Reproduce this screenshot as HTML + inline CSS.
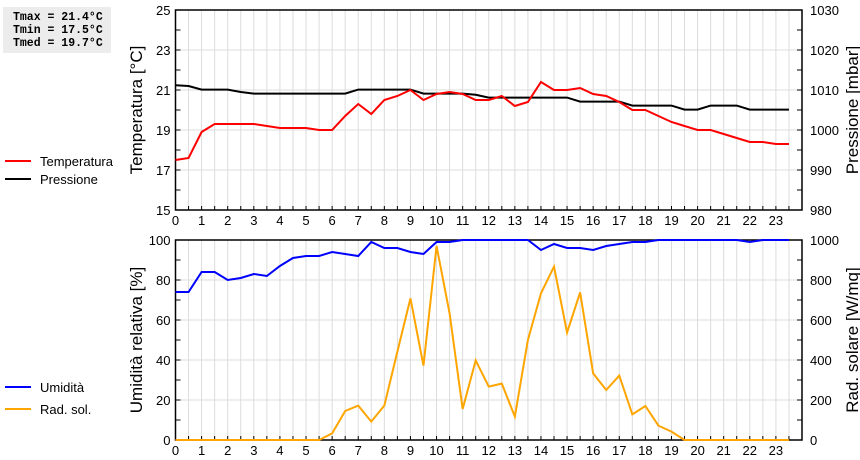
<!DOCTYPE html>
<html><head><meta charset="utf-8"><style>
body{margin:0;background:#fff;width:860px;height:460px;overflow:hidden}
svg{display:block;font-family:"Liberation Sans",Arial,sans-serif}
</style></head><body>
<svg id="chart" width="860" height="460" xmlns="http://www.w3.org/2000/svg">
<g>
<rect x="3" y="7" width="108" height="46" fill="#ececec"/>
<text x="13" y="20" font-family="Liberation Mono,monospace" font-weight="bold" font-size="11.5">Tmax = 21.4°C</text>
<text x="13" y="33" font-family="Liberation Mono,monospace" font-weight="bold" font-size="11.5">Tmin = 17.5°C</text>
<text x="13" y="46" font-family="Liberation Mono,monospace" font-weight="bold" font-size="11.5">Tmed = 19.7°C</text>
</g>
<g>
<line x1="5" y1="161" x2="31" y2="161" stroke="#f00" stroke-width="2"/>
<text x="40" y="166" font-size="13">Temperatura</text>
<line x1="5" y1="179" x2="31" y2="179" stroke="#000" stroke-width="2"/>
<text x="40" y="184" font-size="13">Pressione</text>
</g>
<g>
<line x1="5" y1="387" x2="31" y2="387" stroke="#00f" stroke-width="2"/>
<text x="40" y="392" font-size="13">Umidità</text>
<line x1="5" y1="409" x2="31" y2="409" stroke="#ffa500" stroke-width="2"/>
<text x="40" y="414" font-size="13">Rad. sol.</text>
</g>
<g id="g"></g>
</svg>
<script>
const hours = [0,0.5,1,1.5,2,2.5,3,3.5,4,4.5,5,5.5,6,6.5,7,7.5,8,8.5,9,9.5,10,10.5,11,11.5,12,12.5,13,13.5,14,14.5,15,15.5,16,16.5,17,17.5,18,18.5,19,19.5,20,20.5,21,21.5,22,22.5,23,23.5];
const temperature = [17.5,17.6,18.9,19.3,19.3,19.3,19.3,19.2,19.1,19.1,19.1,19.0,19.0,19.7,20.3,19.8,20.5,20.7,21.0,20.5,20.8,20.9,20.8,20.5,20.5,20.7,20.2,20.4,21.4,21.0,21.0,21.1,20.8,20.7,20.4,20.0,20.0,19.7,19.4,19.2,19.0,19.0,18.8,18.6,18.4,18.4,18.3,18.3];
const pressure = [1011.2,1011,1010.1,1010.1,1010.1,1009.5,1009.1,1009.1,1009.1,1009.1,1009.1,1009.1,1009.1,1009.1,1010.1,1010.1,1010.1,1010.1,1010.1,1009.1,1009.1,1009.1,1009.1,1008.8,1008.1,1008.1,1008.1,1008.1,1008.1,1008.1,1008.1,1007.1,1007.1,1007.1,1007.1,1006.1,1006.1,1006.1,1006.1,1005.1,1005.1,1006.1,1006.1,1006.1,1005.1,1005.1,1005.1,1005.1];
const humidity = [74,74,84,84,80,81,83,82,87,91,92,92,94,93,92,99,96,96,94,93,99,99,100,100,100,100,100,100,95,98,96,96,95,97,98,99,99,100,100,100,100,100,100,100,99,100,100,100];
const radiation = [0,0,0,0,0,0,0,0,0,0,0,0,33,145,172,92,172,442,708,372,970,633,155,398,267,282,117,500,733,867,537,738,333,250,322,128,170,72,42,0,0,0,0,0,0,0,0,0];
const xTicks = [0,1,2,3,4,5,6,7,8,9,10,11,12,13,14,15,16,17,18,19,20,21,22,23];
const tempTicks = [15,17,19,21,23,25];
const presTicks = [980,990,1000,1010,1020,1030];
const humTicks = [0,20,40,60,80,100];
const radTicks = [0,200,400,600,800,1000];

const NS="http://www.w3.org/2000/svg", G=document.getElementById('g');
const L=175.5,R=802;
const x=h=>L+(R-L)*h/24;
function mk(t,a,txt){const e=document.createElementNS(NS,t);for(const k in a)e.setAttribute(k,a[k]);if(txt!==undefined)e.textContent=txt;G.appendChild(e);return e;}
function panel(top,bot,lmin,lmax,lt,rmin,rmax,rt,ltitle,rtitle,pname){
  const yl=v=>bot-(v-lmin)/(lmax-lmin)*(bot-top);
  const yr=v=>bot-(v-rmin)/(rmax-rmin)*(bot-top);
  for(let h=0.5;h<24;h+=0.5){const e=mk('line',{x1:x(h),x2:x(h),y1:top,y2:bot,stroke:'#dcdcdc','stroke-width':1});
  
  }
  lt.forEach((v,i)=>{const y=yl(v);
    if(i>0&&i<lt.length-1){const g=mk('line',{x1:L,x2:R,y1:y,y2:y,stroke:'#dcdcdc'});
    
    }
    const t=mk('text',{x:L-5,y:y+5,'text-anchor':'end','font-size':13},v);
    
    
    if(i<lt.length-1){const ym=(y+yl(lt[i+1]))/2;mk('line',{x1:L,x2:L+5,y1:ym,y2:ym,stroke:'#000'});mk('line',{x1:R,x2:R-5,y1:ym,y2:ym,stroke:'#000'});}
    mk('line',{x1:L,x2:L+5,y1:y,y2:y,stroke:'#000'});
  });
  rt.forEach(v=>{const y=yr(v);mk('line',{x1:R,x2:R-5,y1:y,y2:y,stroke:'#000'});
    const t=mk('text',{x:R+8,y:y+5,'font-size':13},v);
    
    });
  for(let h=0.5;h<24;h+=0.5){mk('line',{x1:x(h),x2:x(h),y1:bot,y2:bot-4,stroke:'#000'});}
  xTicks.forEach(h=>{const t=mk('text',{x:x(h),y:bot+15,'text-anchor':'middle','font-size':13},h);
    
    });
  const fr=mk('rect',{x:L,y:top,width:R-L,height:bot-top,fill:'none',stroke:'#000','stroke-width':1.5});
  
  
  const cy=(top+bot)/2;
  const a=mk('text',{x:0,y:0,'font-size':17,'text-anchor':'middle',transform:`translate(142,${cy}) rotate(-90)`},ltitle);
  
  
  const b=mk('text',{x:0,y:0,'font-size':17,'text-anchor':'middle',transform:`translate(858,${cy}) rotate(-90)`},rtitle);
  
  
  return [yl,yr];
}
function line(vals,yf,col,name){
  const p=mk('polyline',{points:vals.map((v,i)=>x(hours[i])+','+yf(v)).join(' '),fill:'none',stroke:col,'stroke-width':2});
  
  
}
const [yt,yp]=panel(10,210,15,25,tempTicks,980,1030,presTicks,'Temperatura [°C]','Pressione [mbar]','top');
line(pressure,yp,'#000','pressure-line');
line(temperature,yt,'#f00','temperature-line');
const [yh,ys]=panel(240,440,0,100,humTicks,0,1000,radTicks,'Umidità relativa [%]','Rad. solare [W/mq]','bottom');
line(radiation,ys,'#ffa500','radiation-line');
line(humidity,yh,'#00f','humidity-line');
</script>
</body></html>
